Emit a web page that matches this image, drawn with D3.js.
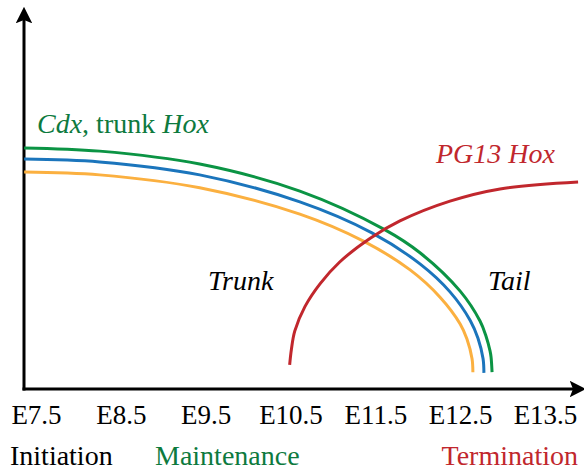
<!DOCTYPE html>
<html>
<head>
  <meta charset='UTF-8'>
  <script src='https://d3js.org/d3.v7.min.js'></script>
  <style>
    body { margin: 0; }
  </style>
</head>
<body>
<svg id='chart' width='584' height='470'></svg>
<script>
  // stages on the x axis
  const stages = [7.5, 8.5, 9.5, 10.5, 11.5, 12.5, 13.5]
  const phases = ['Initiation', 'Maintenance', 'Termination']

  // expression curves (embryonic day, relative level 0-100)
  const greenDays = [7.36, 8.25, 9.43, 10.61, 11.61, 12.03, 12.50, 12.734, 12.805, 12.852, 12.864, 12.876]
  const greenLevel = [66.7, 65.8, 62.2, 54.7, 44.0, 37.5, 26.9, 18.6, 14.4, 10.3, 8.6, 4.4]
  const blueDays = [7.36, 8.25, 9.43, 10.61, 11.46, 12.03, 12.38, 12.62, 12.71, 12.77, 12.78]
  const blueLevel = [63.6, 62.8, 59.2, 51.7, 43.1, 34.4, 26.7, 18.7, 13.8, 8.1, 4.2]
  const orangeDays = [7.36, 8.25, 9.43, 10.61, 11.36, 11.91, 12.26, 12.50, 12.58, 12.64, 12.65]
  const orangeLevel = [60.0, 59.2, 55.6, 48.3, 40.8, 32.8, 25.3, 17.8, 13.6, 8.1, 4.4]
  const redDays = [10.49, 10.51, 10.55, 10.67, 10.85, 11.08, 11.44, 11.79, 12.38, 12.97, 13.89]
  const redLevel = [6.4, 10.6, 15.8, 22.6, 29.0, 35.0, 41.6, 46.4, 51.9, 55.3, 57.2]

  const green = '#0b9444'
  const blue = '#1b75bc'
  const orange = '#fbb040'
  const red = '#c1272d'
  const textGreen = '#0d7a3e'
  const fontName = 'Liberation Serif'

  const originX = 24
  const originY = 389

  const svg = d3.select('#chart')

  // 比例尺
  const x = d3.scaleLinear().domain([7.5, 13.5]).range([36, 545])
  const y = d3.scaleLinear().domain([0, 100]).range([388, 28])

  // 箭头
  svg.append('defs').append('marker')
    .attr('id', 'arrow')
    .attr('viewBox', '0 0 10 10')
    .attr('refX', 2)
    .attr('refY', 5)
    .attr('markerWidth', 5.5)
    .attr('markerHeight', 5.5)
    .attr('markerUnits', 'strokeWidth')
    .attr('orient', 'auto')
    .append('path')
    .attr('d', 'M0,0 L10,5 L0,10 L2,5 Z')
    .attr('fill', '#000')

  svg.append('line')
    .attr('x1', originX).attr('y1', originY + 1.5)
    .attr('x2', originX).attr('y2', 20)
    .attr('stroke', '#000').attr('stroke-width', 3)
    .attr('marker-end', 'url(#arrow)')
  svg.append('line')
    .attr('x1', originX - 1.5).attr('y1', originY)
    .attr('x2', 573).attr('y2', originY)
    .attr('stroke', '#000').attr('stroke-width', 3)
    .attr('marker-end', 'url(#arrow)')

  // tick labels
  const axis = d3.axisBottom(x)
    .tickValues(stages)
    .tickSize(0)
    .tickPadding(16)
    .tickFormat(d => 'E' + d3.format('.1f')(d))
  const gx = svg.append('g')
    .attr('transform', `translate(0, ${originY})`)
    .call(axis)
    .attr('font-family', fontName)
    .attr('font-size', 27)
  gx.select('.domain').remove()
  gx.selectAll('text')
    .style('font-family', `"${fontName}"`)
    .style('font-size', '27px')
    .attr('fill', '#000')

  // curves
  const line = d3.line()
    .x(d => x(d[0]))
    .y(d => y(d[1]))
    .curve(d3.curveCatmullRom.alpha(0.5))

  const curves = [
    { days: orangeDays, level: orangeLevel, color: orange },
    { days: blueDays, level: blueLevel, color: blue },
    { days: greenDays, level: greenLevel, color: green },
    { days: redDays, level: redLevel, color: red }
  ]
  svg.append('g').selectAll('path')
    .data(curves)
    .enter()
    .append('path')
    .attr('d', c => line(d3.zip(c.days, c.level)))
    .attr('fill', 'none')
    .attr('stroke', c => c.color)
    .attr('stroke-width', 3)

  // labels
  function label (px, py, color, italic) {
    return svg.append('text')
      .attr('x', px).attr('y', py)
      .attr('fill', color)
      .attr('font-family', fontName)
      .attr('font-size', 28)
      .attr('font-style', italic ? 'italic' : 'normal')
  }
  const cdx = label(37, 133, textGreen, false)
  cdx.append('tspan').attr('font-style', 'italic').text('Cdx')
  cdx.append('tspan').text(', trunk ')
  cdx.append('tspan').attr('font-style', 'italic').text('Hox')

  label(436, 163, red, true).text('PG13 Hox')
  label(208, 290, '#000', true).text('Trunk')
  label(488, 290, '#000', true).text('Tail')

  const phaseColors = ['#000', textGreen, red]
  const phaseX = [10, 155, 578]
  const phaseAnchor = ['start', 'start', 'end']
  phases.forEach((p, i) => {
    label(phaseX[i], 465, phaseColors[i], false)
      .attr('text-anchor', phaseAnchor[i])
      .text(p)
  })
</script>
</body>
</html>
